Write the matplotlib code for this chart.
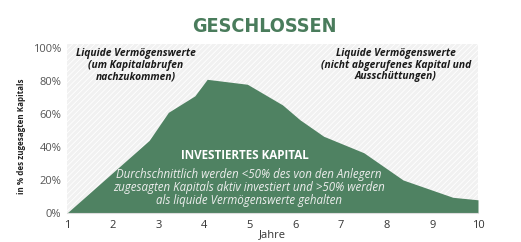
import matplotlib
matplotlib.use("Agg")
import matplotlib.pyplot as plt
from matplotlib.patches import Rectangle
from matplotlib import font_manager as fm

# Data
years = [1, 2.8, 3.22, 3.8, 4.07, 4.95, 5.72, 6.1, 6.62, 7.5, 8.36, 9.45, 10]
invested = [0, 44, 61, 71, 81, 78, 65.5, 56.5, 46.5, 36.5, 20, 9.5, 8]
xticks = list(range(1, 11))
yticks = [0, 20, 40, 60, 80, 100]
ytick_labels = ["0%", "20%", "40%", "60%", "80%", "100%"]

GREEN = "#4f8262"
FONT = "Open Sans"

# pick a condensed bold font for the title if one is installed
cands = []
for f in fm.fontManager.ttflist:
    st = str(f.stretch)
    if ("Narrow" in f.name or "Condensed" in f.name or st in ("condensed", "semi-condensed", "extra-condensed")
            or (st.isdigit() and int(st) < 500)):
        w = f.weight if isinstance(f.weight, int) else 400
        if f.style == "normal":
            cands.append((abs(w - 700), f))
if cands:
    cands.sort(key=lambda t: t[0])
    title_font = fm.FontProperties(fname=cands[0][1].fname, size=20)
else:
    title_font = fm.FontProperties(family="DejaVu Sans", weight="bold", size=15)

fig = plt.figure(figsize=(5.21, 2.42), dpi=100)
ax = fig.add_axes([67/521, 29/242, 411/521, 169/242])
ax.set_xlim(1, 10)
ax.set_ylim(0, 102.4)

ax.set_facecolor("#f1f1f1")
plt.rcParams['hatch.linewidth'] = 0.6
ax.add_patch(Rectangle((0, 0), 1, 1, transform=ax.transAxes, facecolor="none",
                       edgecolor="white", hatch="//////", linewidth=0, zorder=0))

ax.fill_between(years, invested, 0, color=GREEN, linewidth=0, zorder=2)

for s in ax.spines.values():
    s.set_visible(False)
ax.spines['bottom'].set_visible(True)
ax.spines['bottom'].set_color("#dddddd")

ax.set_xticks(xticks)
ax.set_xticklabels([str(t) for t in xticks], fontfamily=FONT, fontsize=8, color="#333333")
ax.set_yticks(yticks)
ax.set_yticklabels(ytick_labels, fontfamily=FONT, fontsize=8, color="#555555")
ax.tick_params(length=0, pad=4)
ax.tick_params(axis='x', pad=5)

ax.set_xlabel("Jahre", fontfamily=FONT, fontsize=8, color="#333333", labelpad=-1)
fig.text(22/521, 1 - 136/242, "in % des zugesagten Kapitals", rotation=90,
         fontfamily=FONT, fontsize=5.8, fontweight="bold", color="#222222",
         ha="center", va="center")

t = fig.text(264/521, 1 - 26/242, "GESCHLOSSEN", fontproperties=title_font,
             color="#4a7c5c", ha="center", va="center")
# keep the title's width near the reference
fig.canvas.draw()
w = t.get_window_extent().width
if w > 0:
    title_font.set_size(title_font.get_size() * 145.0 / w)
    t.set_fontproperties(title_font)

ax.text(2.51, 89.6, "Liquide Vermögenswerte\n(um Kapitalabrufen\nnachzukommen)",
        fontfamily=FONT, fontsize=7.4, fontweight="bold", style="italic", color="#1a1a1a",
        ha="center", va="center", linespacing=1.05, zorder=3)
ax.text(8.2, 89.6, "Liquide Vermögenswerte\n(nicht abgerufenes Kapital und\nAusschüttungen)",
        fontfamily=FONT, fontsize=7.4, fontweight="bold", style="italic", color="#1a1a1a",
        ha="center", va="center", linespacing=1.05, zorder=3)

ax.text(4.89, 35, "INVESTIERTES KAPITAL", fontfamily=FONT, fontsize=8.4, fontweight="bold",
        color="white", ha="center", va="center", zorder=3)
ax.text(4.99, 15.3,
        "Durchschnittlich werden <50% des von den Anlegern\nzugesagten Kapitals aktiv investiert und >50% werden\nals liquide Vermögenswerte gehalten",
        fontfamily=FONT, fontsize=8.3, style="italic", color="#eeeeee",
        ha="center", va="center", linespacing=1.0, zorder=3)

fig.savefig("out.png", dpi=100, facecolor="white")
